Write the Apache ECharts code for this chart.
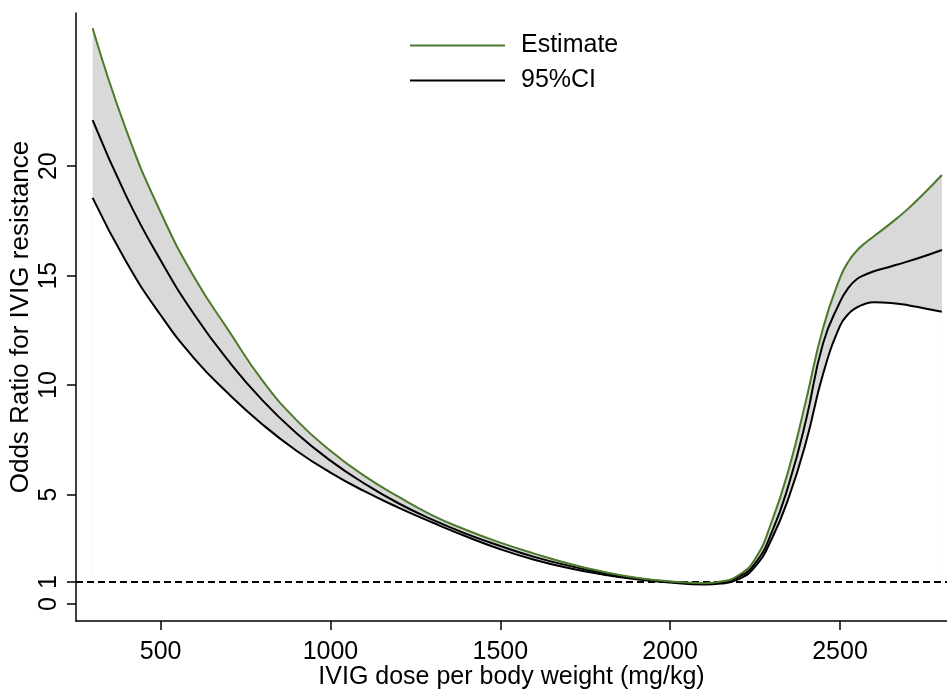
<!DOCTYPE html>
<html>
<head>
<meta charset="utf-8">
<script src="https://cdn.jsdelivr.net/npm/echarts@6/dist/echarts.min.js"></script>
<style>
  html, body { margin: 0; padding: 0; background: #fff; }
  #main { width: 947px; height: 691px; }
</style>
</head>
<body>
<div id="main"></div>
<script>
// dose (mg/kg)
var doseX = [300, 400, 500, 600, 700, 800, 900, 1000, 1100, 1200, 1300, 1400, 1500, 1600, 1700, 1800, 1900, 2000,
  2100, 2150, 2200, 2250, 2300, 2350, 2400, 2450, 2500, 2525, 2550, 2575, 2600, 2650, 2700, 2750, 2800];
// middle curve
var estimate = [22.1, 18.6, 15.7, 13.2, 11.1, 9.3, 7.8, 6.55, 5.5, 4.6, 3.85, 3.2, 2.65, 2.15, 1.75, 1.42, 1.17, 1.01,
  0.92, 0.98, 1.22, 1.85, 3.3, 5.5, 8.4, 11.9, 13.8, 14.45, 14.85, 15.05, 15.2, 15.42, 15.65, 15.9, 16.17];
// upper bound (green)
var upper = [26.3, 21.6, 17.9, 14.9, 12.5, 10.2, 8.4, 7.0, 5.85, 4.9, 4.05, 3.38, 2.8, 2.3, 1.85, 1.48, 1.2, 1.03,
  0.95, 1.02, 1.3, 2.05, 3.8, 6.2, 9.3, 12.6, 14.9, 15.65, 16.15, 16.5, 16.8, 17.4, 18.05, 18.8, 19.6];
// lower bound
var lower = [18.55, 15.6, 13.2, 11.2, 9.6, 8.2, 7.0, 6.0, 5.15, 4.4, 3.72, 3.08, 2.5, 2.02, 1.64, 1.35, 1.13, 0.98,
  0.89, 0.93, 1.12, 1.7, 3.0, 4.9, 7.4, 10.5, 12.7, 13.25, 13.55, 13.72, 13.78, 13.75, 13.65, 13.5, 13.35];
var xTicks = [500, 1000, 1500, 2000, 2500];
var yTicks = [0, 1, 5, 10, 15, 20];
var refLine = 1;

var FONT = 'Liberation Sans';
var GREEN = '#4e7a2c';
var FS = 25;

function pairs(ys) {
  return doseX.map(function (x, i) { return [x, ys[i]]; });
}

var chart = echarts.init(document.getElementById('main'), null, { renderer: 'canvas' });

var option = {
  animation: false,
  backgroundColor: '#fff',
  textStyle: { fontFamily: FONT },
  grid: { left: 76, right: 0, top: 13, bottom: 70, outerBoundsMode: 'none', containLabel: false },
  legend: {
    data: ['Estimate', '95%CI'],
    orient: 'vertical',
    left: 405,
    top: 28,
    icon: 'rect',
    itemWidth: 95,
    itemHeight: 2,
    itemGap: 10,
    textStyle: { fontSize: FS, color: '#000', fontFamily: FONT, padding: [0, 0, 0, 11] }
  },
  xAxis: {
    type: 'value',
    min: 251,
    max: 2815,
    name: 'IVIG dose per body weight (mg/kg)',
    nameLocation: 'middle',
    nameGap: 44,
    nameMoveOverlap: false,
    nameTextStyle: { fontSize: FS, color: '#000', fontFamily: FONT },
    axisLine: { show: true, onZero: false, lineStyle: { color: '#000', width: 1.5 } },
    axisTick: { show: true, length: 9, customValues: xTicks, lineStyle: { color: '#000', width: 1.5 } },
    axisLabel: {
      customValues: xTicks, fontSize: FS, color: '#000', margin: 19, fontFamily: FONT,
      formatter: function (v) { return String(v); }
    },
    splitLine: { show: false }
  },
  yAxis: {
    type: 'value',
    min: -0.78,
    max: 27,
    name: 'Odds Ratio for IVIG resistance',
    nameLocation: 'middle',
    nameGap: 42,
    nameMoveOverlap: false,
    nameRotate: 90,
    nameTextStyle: { fontSize: 26, color: '#000', fontFamily: FONT },
    axisLine: { show: true, onZero: false, lineStyle: { color: '#000', width: 1.5 } },
    axisTick: { show: true, length: 9, customValues: yTicks, lineStyle: { color: '#000', width: 1.5 } },
    axisLabel: {
      customValues: yTicks, rotate: 90, fontSize: FS, color: '#000', margin: 14, fontFamily: FONT,
      formatter: function (v) { return String(v); }
    },
    splitLine: { show: false }
  },
  series: [
    // grey CI band: grey between the reference line and the upper bound, white between it and the lower bound
    {
      name: 'bandTop',
      type: 'line',
      data: pairs(upper),
      smooth: true,
      symbol: 'none',
      z: 1,
      silent: true,
      lineStyle: { width: 1, color: '#b8b8b8' },
      areaStyle: { color: '#d9d9d9', opacity: 1, origin: refLine }
    },
    {
      name: 'bandBottom',
      type: 'line',
      data: pairs(lower),
      smooth: true,
      symbol: 'none',
      z: 2,
      silent: true,
      lineStyle: { width: 1, color: '#fff' },
      areaStyle: { color: '#fff', opacity: 1, origin: refLine }
    },
    {
      name: 'refLine',
      type: 'line',
      data: [],
      z: 3,
      silent: true,
      markLine: {
        silent: true,
        symbol: 'none',
        label: { show: false },
        lineStyle: { color: '#000', type: [7, 4], width: 2 },
        data: [{ yAxis: refLine }]
      }
    },
    {
      name: '95%CI',
      type: 'line',
      data: pairs(lower),
      smooth: true,
      symbol: 'none',
      z: 4,
      lineStyle: { color: '#000', width: 2 },
      itemStyle: { color: '#000' }
    },
    {
      name: '95%CI',
      type: 'line',
      data: pairs(estimate),
      smooth: true,
      symbol: 'none',
      z: 4,
      lineStyle: { color: '#000', width: 2 },
      itemStyle: { color: '#000' }
    },
    {
      name: 'Estimate',
      type: 'line',
      data: pairs(upper),
      smooth: true,
      symbol: 'none',
      z: 5,
      lineStyle: { color: GREEN, width: 2 },
      itemStyle: { color: GREEN }
    }
  ]
};

chart.setOption(option);
</script>
</body>
</html>
